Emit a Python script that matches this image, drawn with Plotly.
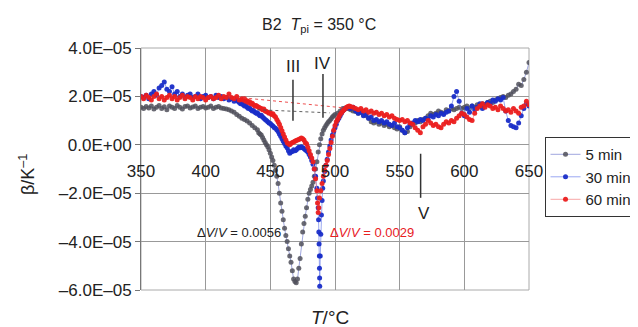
import plotly.graph_objects as go

# ---------------- data (beta in units of 1e-5 K^-1) ----------------
x5 = ([350 + 2 * i for i in range(46)] + list(range(441, 501)) + [502 + 2 * i for i in range(75)])
b5 = [1.55, 1.50, 1.58, 1.52, 1.60, 1.48, 1.55, 1.62, 1.50, 1.57, 1.45, 1.60, 1.55, 1.50, 1.62, 1.55,
      1.48, 1.58, 1.60, 1.52, 1.56, 1.60, 1.50, 1.55, 1.58, 1.52, 1.55, 1.60, 1.50, 1.55, 1.58, 1.52,
      1.50, 1.48, 1.45, 1.40, 1.35, 1.25, 1.18, 1.10, 1.05, 0.98, 0.90, 0.80, 0.70, 0.62,
      0.50, 0.45, 0.40, 0.30, 0.20, 0.10, 0.00, -0.08, -0.20, -0.35, -0.50, -0.65, -0.85, -1.05, -1.30,
      -1.60, -2.00, -2.40, -2.75, -3.10, -3.45, -3.75, -4.00, -4.30, -4.60, -4.85, -5.20, -5.55, -5.65,
      -5.70, -5.55, -5.10, -4.70, -4.10, -3.60, -3.25, -2.95, -2.60, -2.25, -2.00, -1.85, -1.70, -1.55,
      -1.30, -1.00, -0.70, -0.30, 0.00, 0.25, 0.45, 0.60, 0.70, 0.80, 0.88, 0.95, 1.00, 1.08, 1.15, 1.20, 1.25,
      1.30, 1.40, 1.50, 1.52, 1.50, 1.45, 1.40, 1.38, 1.30, 1.35, 1.25, 1.20, 1.10, 0.95, 0.90, 0.95,
      0.85, 0.90, 0.80, 0.85, 0.75, 0.80, 0.70, 0.65, 0.75, 0.60, 0.50, 0.55, 0.75, 0.85, 0.90, 1.00,
      0.95, 1.05, 1.10, 1.20, 1.30, 1.25, 1.30, 1.40, 1.35, 1.30, 1.45, 1.40, 1.50, 1.45, 1.50, 1.55,
      1.50, 1.55, 1.60, 1.50, 1.60, 1.55, 1.65, 1.60, 1.70, 1.65, 1.75, 1.80, 1.75, 1.85, 1.90, 1.95,
      2.00, 1.95, 2.05, 2.10, 2.20, 2.30, 2.50, 2.45, 2.70, 3.00, 3.40]

x30 = ([350 + 2 * i for i in range(38)] + list(range(425, 486)) +
       [486, 486.5, 487, 487.3, 487.5, 487.7, 487.9, 488, 488.1, 488.2, 488.6, 489, 489.5, 490, 490.5, 491] +
       list(range(492, 511)) + [512 + 2 * i for i in range(70)])
b30 = [2.00, 1.95, 2.05, 1.90, 2.10, 2.20, 2.05, 2.35, 2.45, 2.60, 2.30, 2.20, 2.40, 2.10, 2.20, 2.00,
       2.10, 1.95, 2.05, 2.10, 1.95, 2.00, 2.10, 1.90, 2.00, 2.05, 1.95, 2.00, 1.90, 2.05, 1.95, 2.00,
       1.90, 1.95, 1.85, 1.90, 1.80, 1.85,
       1.80, 1.75, 1.70, 1.72, 1.65, 1.60, 1.62, 1.55, 1.50, 1.52, 1.45, 1.40, 1.42, 1.35, 1.30, 1.32,
       1.25, 1.20, 1.22, 1.15, 1.10, 1.05, 1.00, 0.95, 0.90, 0.88, 0.82, 0.78, 0.72, 0.68, 0.62, 0.55,
       0.45, 0.35, 0.25, 0.15, 0.05, -0.05, -0.12, -0.25, -0.35, -0.30, -0.28, -0.20, -0.25, -0.22,
       -0.15, -0.10, -0.12, -0.08, -0.12, -0.15, -0.20, -0.25, -0.30, -0.40, -0.50, -0.65, -0.80, -1.00, -1.30,
       -1.80, -2.20, -2.60, -3.10, -3.60, -4.10, -4.60, -5.10, -5.50, -5.85, -4.60, -3.70, -2.90, -2.30, -1.80, -1.50,
       -1.10, -0.85, -0.60, -0.30, -0.05, 0.20, 0.40, 0.55, 0.70, 0.85, 1.00, 1.10, 1.20, 1.30, 1.40,
       1.45, 1.50, 1.52, 1.55,
       1.50, 1.55, 1.40, 1.30, 1.35, 1.20, 1.25, 1.10, 1.15, 1.00, 1.05, 0.95, 1.00, 0.90, 0.95, 0.85,
       0.80, 0.90, 0.75, 0.70, 0.60, 0.50, 0.70, 0.85, 0.90, 1.00, 0.95, 1.05, 1.00, 1.10, 1.05, 1.20,
       1.15, 1.25, 1.20, 1.30, 1.25, 1.35, 1.40, 1.60, 2.00, 2.20, 1.80, 1.30, 1.20, 1.50, 1.35, 1.60,
       1.45, 1.55, 1.70, 1.50, 1.65, 1.75, 1.70, 1.85, 1.80, 1.90, 1.85, 1.95, 1.40, 1.00, 0.80, 0.75,
       0.70, 0.90, 1.20, 1.50, 1.70, 1.60]

x60 = ([350 + 2 * i for i in range(40)] + list(range(429, 487)) + [486.5, 487, 487.5] +
       list(range(488, 513)) + [514 + 2 * i for i in range(69)])
b60 = [2.00, 1.90, 2.05, 1.95, 1.85, 2.00, 2.10, 1.90, 2.00, 1.85, 1.95, 2.05, 1.90, 2.00, 1.85, 1.95,
       2.05, 1.90, 2.00, 1.95, 1.85, 2.00, 1.90, 2.00, 1.95, 1.85, 1.95, 2.00, 1.90, 1.95, 2.05, 1.90,
       2.00, 1.95, 2.10, 1.95, 1.90, 2.00, 1.85, 1.90,
       1.85, 1.90, 1.80, 1.82, 1.75, 1.78, 1.70, 1.72, 1.65, 1.60, 1.62, 1.58, 1.55, 1.52, 1.50, 1.45,
       1.48, 1.40, 1.38, 1.35, 1.30, 1.32, 1.25, 1.28, 1.20, 1.15, 1.05, 0.95, 0.85, 0.72, 0.58, 0.45,
       0.32, 0.20, 0.08, 0.04, 0.00, 0.05, 0.10, 0.12, 0.15, 0.18, 0.20, 0.22, 0.25, 0.28, 0.25, 0.20,
       0.10, 0.04, -0.10, -0.25, -0.40, -0.55, -0.70, -1.00, -1.40, -1.90,
       -2.40, -2.80, -2.60,
       -2.20, -1.90, -1.60, -1.30, -1.05, -0.85, -0.65, -0.40, -0.15, 0.10, 0.35, 0.60, 0.80, 0.95,
       1.05, 1.15, 1.25, 1.32, 1.40, 1.45, 1.50, 1.55, 1.58, 1.60, 1.58,
       1.55, 1.50, 1.45, 1.50, 1.40, 1.45, 1.35, 1.40, 1.30, 1.35, 1.25, 1.30, 1.20, 1.25, 1.15, 1.20,
       1.10, 1.05, 1.00, 1.05, 0.95, 1.00, 0.90, 0.85, 0.70, 0.60, 0.50, 0.75, 0.85, 1.00, 0.90, 0.80,
       0.85, 0.75, 0.70, 0.85, 0.95, 0.90, 1.00, 0.95, 1.10, 1.20, 1.30, 1.25, 1.15, 1.05, 1.00, 1.30,
       1.50, 1.60, 1.70, 1.55, 1.65, 1.60, 1.50, 1.55, 1.45, 1.60, 1.50, 1.40, 1.45, 1.35, 1.50, 1.40,
       1.30, 1.55, 1.60, 1.80, 1.65]

SCALE = 1e-5
y_ticks = [-6e-5, -4e-5, -2e-5, 0, 2e-5, 4e-5]
y_tick_text = ["\u20136.0E\u201305", "\u20134.0E\u201305", "\u20132.0E\u201305",
               "0.0E+00", "2.0E\u201305", "4.0E\u201305"]
x_ticks = [350, 400, 450, 500, 550, 600, 650]

FONT = "Liberation Sans, Arial, sans-serif"

fig = go.Figure()
series = [
    ("5 min", x5, b5, "rgba(80,80,90,0.85)", "rgba(120,130,210,0.7)"),
    ("30 min", x30, b30, "rgba(25,45,200,0.95)", "rgba(110,130,235,0.7)"),
    ("60 min", x60, b60, "rgba(235,30,30,0.95)", "rgba(245,130,130,0.7)"),
]
for name, xs, ys, mc, lc in series:
    fig.add_trace(go.Scatter(
        x=xs, y=[v * SCALE for v in ys], mode="lines+markers", name=name,
        line=dict(color=lc, width=1),
        marker=dict(color=mc, size=5, line=dict(width=0)),
    ))

# dotted baselines
fig.add_shape(type="line", x0=429, y0=1.94e-5, x1=506, y1=1.53e-5,
              line=dict(color="rgba(235,60,60,0.9)", width=1, dash="dot"))
fig.add_shape(type="line", x0=440, y0=1.45e-5, x1=496, y1=1.32e-5,
              line=dict(color="rgba(80,80,80,0.9)", width=1, dash="dot"))
# marker lines III, IV, V
for (xx, ya, yb) in [(467.5, 2.69e-5, 0.99e-5), (490.7, 2.93e-5, 1.12e-5), (566.2, -0.37e-5, -2.19e-5)]:
    fig.add_shape(type="line", x0=xx, x1=xx, y0=ya, y1=yb, line=dict(color="#333333", width=1.5))

# plot border
fig.add_shape(type="rect", xref="paper", yref="paper", x0=0, y0=0, x1=1, y1=1,
              line=dict(color="#aaaaaa", width=1), layer="below")

ann = [
    dict(x=467.5, y=3.22e-5, text="III", font=dict(size=17)),
    dict(x=490.5, y=3.35e-5, text="IV", font=dict(size=17)),
    dict(x=569, y=-2.85e-5, text="V", font=dict(size=17)),
    dict(x=425.8, y=-3.64e-5, text="\u0394<i>V</i>/<i>V</i> = 0.0056", font=dict(size=13, color="#222222")),
    dict(x=528.6, y=-3.64e-5, text="\u0394<i>V</i>/<i>V</i> = 0.0029", font=dict(size=13, color="#e8201f")),
]
for a in ann:
    fig.add_annotation(xref="x", yref="y", showarrow=False, xanchor="center", yanchor="middle", **a)

for (px, py, txt, sz, ang) in [
    (0.459, 1.091, "B2  <i>T</i><sub>pi</sub> = 350 \u00b0C", 16, 0),
    (0.487, -0.112, "<i>T</i>/\u00b0C", 19, 0),
    (-0.294, 0.479, "\u03b2/K<sup>\u20131</sup>", 18, -90),
]:
    fig.add_annotation(xref="paper", yref="paper", x=px, y=py, showarrow=False, text=txt,
                       xanchor="center", yanchor="middle", textangle=ang,
                       font=dict(size=sz, color="#222222"))

# the page adds an ~8 px offset, so the figure is 8 px smaller than the window
fig.update_layout(
    width=630, height=319,
    margin=dict(l=133, r=109, t=40, b=37, autoexpand=False),
    paper_bgcolor="white", plot_bgcolor="white",
    font=dict(family=FONT, color="#222222"),
    showlegend=True,
    legend=dict(x=1.04, y=0.632, xanchor="left", yanchor="top",
                bordercolor="#333333", borderwidth=1, font=dict(size=15),
                tracegroupgap=0, itemwidth=30),
    xaxis=dict(range=[350, 650], tickvals=x_ticks, showgrid=True, gridcolor="#999999", gridwidth=1,
               zeroline=False, showline=False, anchor="free", position=0.6, automargin=False,
               ticks="outside", ticklen=11, tickcolor="rgba(0,0,0,0)",
               tickfont=dict(size=17, color="#222222")),
    yaxis=dict(range=[-6e-5, 4e-5], tickvals=y_ticks, ticktext=y_tick_text, showgrid=True,
               gridcolor="#999999", gridwidth=1, zeroline=False, showline=True, linecolor="#777777",
               ticks="outside", ticklen=5, tickcolor="#777777", domain=[0, 1], automargin=False,
               tickfont=dict(size=17, color="#222222")),
)

fig.write_html("out.html")
